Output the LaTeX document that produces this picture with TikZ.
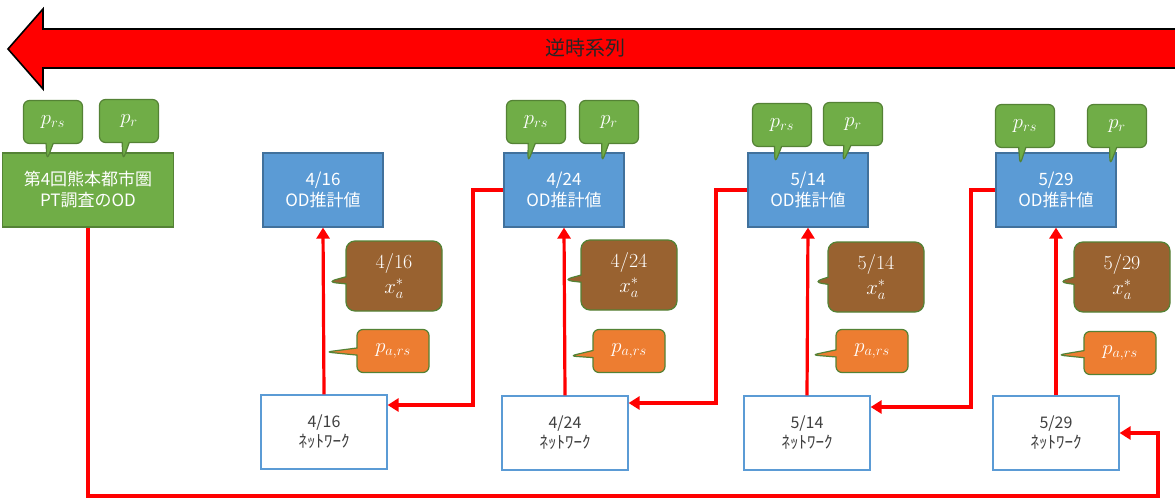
\documentclass[tikz,border=0pt]{standalone}
\usepackage{fontspec}
\newfontfamily\jp{Noto Sans CJK JP}
\usetikzlibrary{arrows.meta,shapes.callouts}
\definecolor{ptgreen}{RGB}{112,173,71}
\definecolor{ptline}{RGB}{84,130,53}
\definecolor{odfill}{RGB}{91,155,213}
\definecolor{odline}{RGB}{65,113,156}
\definecolor{xbrown}{RGB}{153,98,48}
\definecolor{porange}{RGB}{237,125,49}
\begin{document}
\begin{tikzpicture}[x=1pt, y=-1pt,
  od/.style = {draw=odline, fill=odfill, line width=1.2pt, minimum width=120pt, minimum height=74pt, text=white, align=center, font=\jp\fontsize{17}{21}\selectfont},
  pt/.style = {draw=ptline, fill=ptgreen, line width=1.2pt, minimum width=171pt, minimum height=74pt, text=white, align=center, font=\jp\fontsize{17}{21}\selectfont},
  net/.style = {draw=odfill, fill=white, line width=1.2pt, minimum width=126pt, minimum height=74pt, align=center, text=black!75, font=\jp\fontsize{16}{20}\selectfont},
  pbub/.style = {rectangle callout, draw=ptline, fill=ptgreen, line width=1.2pt, rounded corners=6pt, minimum width=59pt, minimum height=43pt, text=white, font=\fontsize{20}{22}\selectfont},
  xbub/.style = {rectangle callout, draw=ptline, fill=xbrown, line width=1.2pt, rounded corners=9pt, minimum width=96pt, minimum height=70pt, text=white, align=center, font=\fontsize{20}{25}\selectfont},
  abub/.style = {rectangle callout, draw=ptline, fill=porange, line width=1.2pt, rounded corners=6pt, minimum width=72pt, minimum height=43pt, text=white, font=\fontsize{20}{22}\selectfont},
  flow/.style = {draw=red, line width=3.2pt, -{Triangle[length=11pt, width=13pt]}}]
\useasboundingbox (0,0) rectangle (1175,500);
\fill[white] (0,0) rectangle (1175,500);

\filldraw[fill=red, draw=black, line width=1.6pt] (8,49) -- (43,9) -- (43,29) -- (1180,29) -- (1180,68) -- (43,68) -- (43,89) -- cycle;
\node[font=\jp\fontsize{20}{22}\selectfont, text=black!85] (rev) at (585,48) {逆時系列};

\node[pt] (pt) at (88,190) {第4回熊本都市圏\\PT調査のOD};
\node[od] (od416) at (323,190) {4/16\\OD推計値};
\node[od] (od424) at (564,190) {4/24\\OD推計値};
\node[od] (od514) at (808,190) {5/14\\OD推計値};
\node[od] (od529) at (1056,190) {5/29\\OD推計値};

\node[net] (net416) at (324,432) {4/16\\{\fontsize{17}{20}\selectfont ﾈｯﾄﾜｰｸ}};
\node[net] (net424) at (565,433) {4/24\\{\fontsize{17}{20}\selectfont ﾈｯﾄﾜｰｸ}};
\node[net] (net514) at (807,433) {5/14\\{\fontsize{17}{20}\selectfont ﾈｯﾄﾜｰｸ}};
\node[net] (net529) at (1056,433) {5/29\\{\fontsize{17}{20}\selectfont ﾈｯﾄﾜｰｸ}};

\node[pbub, callout absolute pointer={(47,160)}] (prs0) at (53,122) {$p_{rs}$};
\node[pbub, callout absolute pointer={(123,160)}] (pr0) at (129,121) {$p_{r}$};
\node[pbub, callout absolute pointer={(528,162)}] (prs424) at (536,122) {$p_{rs}$};
\node[pbub, callout absolute pointer={(602,162)}] (pr424) at (609,122) {$p_{r}$};
\node[pbub, callout absolute pointer={(775,163)}] (prs514) at (782,125) {$p_{rs}$};
\node[pbub, callout absolute pointer={(843,162)}] (pr514) at (853,124) {$p_{r}$};
\node[pbub, callout absolute pointer={(1020,165)}] (prs529) at (1025,126) {$p_{rs}$};
\node[pbub, callout absolute pointer={(1110,165)}] (pr529) at (1117,126) {$p_{r}$};

\node[xbub, callout absolute pointer={(327,282)}] (x416) at (394,276) {4/16\\$x_a^*$};
\node[xbub, callout absolute pointer={(563,280)}] (x424) at (629,275) {4/24\\$x_a^*$};
\node[xbub, callout absolute pointer={(813,282)}] (x514) at (876,277) {5/14\\$x_a^*$};
\node[xbub, callout absolute pointer={(1058,282)}] (x529) at (1122,277) {5/29\\$x_a^*$};

\node[abub, callout absolute pointer={(326,352)}] (a416) at (393,351) {$p_{a,rs}$};
\node[abub, callout absolute pointer={(570,356)}] (a424) at (629,351) {$p_{a,rs}$};
\node[abub, callout absolute pointer={(812,355)}] (a514) at (872,351) {$p_{a,rs}$};
\node[abub, callout absolute pointer={(1058,355)}] (a529) at (1120,353) {$p_{a,rs}$};

\draw[flow] (net416.north) -- (od416.south);
\draw[flow] (net424.north) -- (od424.south);
\draw[flow] (net514.north) -- (od514.south);
\draw[flow] (net529.north) -- (od529.south);

\coordinate (turn424) at (473,405);
\coordinate (turn514) at (716,403);
\coordinate (turn529) at (971,407);
\coordinate (loopend) at (1158,496);
\draw[flow] (od424.west) -| (turn424) -- (turn424 -| net416.east);
\draw[flow] (od514.west) -| (turn514) -- (turn514 -| net424.east);
\draw[flow] (od529.west) -| (turn529) -- (turn529 -| net514.east);
\draw[flow] (pt.south) |- (loopend) |- (net529.east);
\end{tikzpicture}
\end{document}
